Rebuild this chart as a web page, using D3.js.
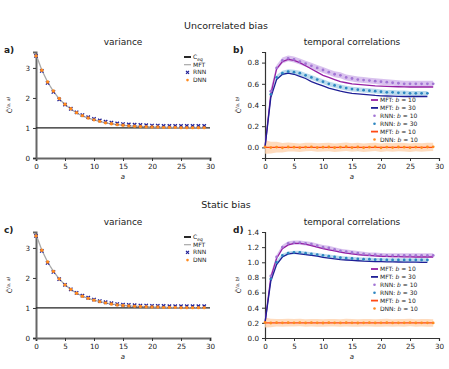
<!DOCTYPE html>
<meta charset="utf-8">
<style>
body { margin: 0; background: #fff; }
text { font-family: "DejaVu Sans", sans-serif; fill: #222; }
.tick text { font-size: 7.2px; }
</style>
<svg width="449" height="369"></svg>
<script src="https://cdn.jsdelivr.net/npm/d3@7"></script>
<script>

// time lags a = 0..29
var lags = d3.range(30);
var lags29 = d3.range(29); // b = 30 curves stop at a = 28

// ---- uncorrelated bias: variance ----
var mftVarU = [3.45, 2.93, 2.53, 2.22, 1.97, 1.78, 1.63, 1.50, 1.40, 1.33, 1.27, 1.22, 1.17, 1.14, 1.11, 1.09, 1.07, 1.06, 1.05, 1.04, 1.03, 1.03, 1.02, 1.02, 1.01, 1.01, 1.01, 1.01, 1.01, 1.01];
var rnnVarU = [3.40, 2.90, 2.50, 2.20, 1.95, 1.78, 1.64, 1.52, 1.43, 1.36, 1.30, 1.25, 1.21, 1.18, 1.15, 1.13, 1.12, 1.11, 1.10, 1.09, 1.08, 1.08, 1.07, 1.07, 1.07, 1.07, 1.07, 1.07, 1.07, 1.07];
var dnnVarU = [3.40, 2.92, 2.53, 2.23, 1.98, 1.79, 1.64, 1.51, 1.41, 1.33, 1.27, 1.22, 1.17, 1.14, 1.11, 1.09, 1.07, 1.06, 1.05, 1.04, 1.03, 1.03, 1.02, 1.02, 1.02, 1.01, 1.01, 1.01, 1.01, 1.01];

// ---- uncorrelated bias: temporal correlations ----
var mftB10U = [0.00, 0.50, 0.74, 0.81, 0.83, 0.82, 0.80, 0.77, 0.74, 0.71, 0.68, 0.66, 0.64, 0.62, 0.61, 0.60, 0.595, 0.59, 0.585, 0.58, 0.578, 0.576, 0.574, 0.572, 0.571, 0.57, 0.57, 0.57, 0.57, 0.57];
var mftB30U = [0.00, 0.47, 0.64, 0.69, 0.70, 0.69, 0.67, 0.65, 0.62, 0.60, 0.58, 0.56, 0.545, 0.53, 0.52, 0.51, 0.505, 0.50, 0.495, 0.49, 0.487, 0.485, 0.483, 0.481, 0.48, 0.48, 0.48, 0.48, 0.48];
var rnnB10U = [0.00, 0.53, 0.75, 0.82, 0.84, 0.83, 0.81, 0.79, 0.77, 0.75, 0.73, 0.71, 0.69, 0.68, 0.66, 0.65, 0.64, 0.635, 0.63, 0.625, 0.62, 0.615, 0.61, 0.605, 0.60, 0.60, 0.60, 0.60, 0.60, 0.60];
var rnnB30U = [0.00, 0.50, 0.66, 0.70, 0.715, 0.71, 0.70, 0.68, 0.66, 0.64, 0.62, 0.60, 0.585, 0.57, 0.56, 0.55, 0.545, 0.54, 0.535, 0.53, 0.525, 0.52, 0.52, 0.515, 0.515, 0.51, 0.51, 0.51, 0.51];
var mftDnnU = [0.00, 0.00, 0.00, 0.00, 0.00, 0.00, 0.00, 0.00, 0.00, 0.00, 0.00, 0.00, 0.00, 0.00, 0.00, 0.00, 0.00, 0.00, 0.00, 0.00, 0.00, 0.00, 0.00, 0.00, 0.00, 0.00, 0.00, 0.00, 0.00, 0.00];
var dnnB10U = [0.005, -0.002, 0.003, -0.004, 0.004, 0.002, -0.003, 0.003, 0.005, -0.002, 0.002, 0.004, -0.003, 0.002, 0.006, -0.002, 0.004, -0.003, 0.002, 0.005, -0.004, 0.003, -0.002, 0.004, 0.002, -0.003, 0.003, -0.002, 0.004, 0.005];
var dnnBandU = [0.065, 0.055, 0.05, 0.045, 0.042, 0.04, 0.04, 0.04, 0.04, 0.04, 0.04, 0.04, 0.04, 0.04, 0.04, 0.04, 0.04, 0.04, 0.04, 0.04, 0.04, 0.04, 0.04, 0.04, 0.04, 0.04, 0.04, 0.04, 0.04, 0.04];

// ---- static bias: variance ----
var mftVarS = [3.45, 2.93, 2.53, 2.22, 1.97, 1.77, 1.62, 1.49, 1.39, 1.32, 1.26, 1.21, 1.17, 1.13, 1.11, 1.09, 1.07, 1.06, 1.05, 1.04, 1.03, 1.03, 1.02, 1.02, 1.01, 1.01, 1.01, 1.01, 1.01, 1.01];
var rnnVarS = [3.40, 2.90, 2.50, 2.20, 1.96, 1.77, 1.62, 1.50, 1.41, 1.34, 1.28, 1.23, 1.19, 1.16, 1.13, 1.11, 1.10, 1.09, 1.08, 1.08, 1.07, 1.07, 1.07, 1.06, 1.06, 1.06, 1.06, 1.06, 1.06, 1.06];
var dnnVarS = [3.40, 2.92, 2.53, 2.22, 1.97, 1.77, 1.62, 1.49, 1.39, 1.32, 1.26, 1.21, 1.17, 1.13, 1.10, 1.08, 1.07, 1.06, 1.05, 1.04, 1.03, 1.03, 1.02, 1.02, 1.02, 1.01, 1.01, 1.01, 1.01, 1.01];

// ---- static bias: temporal correlations ----
var mftB10S = [0.20, 0.80, 1.05, 1.18, 1.23, 1.25, 1.25, 1.24, 1.22, 1.20, 1.18, 1.165, 1.15, 1.135, 1.12, 1.11, 1.10, 1.095, 1.09, 1.085, 1.08, 1.078, 1.076, 1.074, 1.072, 1.071, 1.07, 1.07, 1.07, 1.07];
var mftB30S = [0.20, 0.75, 0.97, 1.07, 1.11, 1.12, 1.11, 1.10, 1.09, 1.08, 1.065, 1.055, 1.045, 1.035, 1.03, 1.025, 1.02, 1.015, 1.012, 1.01, 1.008, 1.006, 1.005, 1.004, 1.003, 1.002, 1.001, 1.00, 1.00];
var rnnB10S = [0.20, 0.82, 1.07, 1.20, 1.25, 1.26, 1.26, 1.25, 1.24, 1.22, 1.20, 1.19, 1.17, 1.15, 1.14, 1.13, 1.12, 1.11, 1.10, 1.10, 1.095, 1.09, 1.09, 1.09, 1.09, 1.09, 1.09, 1.09, 1.09, 1.09];
var rnnB30S = [0.20, 0.78, 1.00, 1.09, 1.12, 1.13, 1.13, 1.12, 1.11, 1.10, 1.09, 1.08, 1.07, 1.06, 1.055, 1.05, 1.045, 1.04, 1.04, 1.035, 1.035, 1.03, 1.03, 1.03, 1.03, 1.03, 1.03, 1.03, 1.03];
var mftDnnS = [0.20, 0.20, 0.20, 0.20, 0.20, 0.20, 0.20, 0.20, 0.20, 0.20, 0.20, 0.20, 0.20, 0.20, 0.20, 0.20, 0.20, 0.20, 0.20, 0.20, 0.20, 0.20, 0.20, 0.20, 0.20, 0.20, 0.20, 0.20, 0.20, 0.20];
var dnnB10S = [0.205, 0.198, 0.202, 0.200, 0.203, 0.201, 0.204, 0.199, 0.202, 0.200, 0.198, 0.202, 0.201, 0.199, 0.203, 0.200, 0.198, 0.201, 0.202, 0.199, 0.200, 0.203, 0.199, 0.201, 0.200, 0.204, 0.199, 0.201, 0.200, 0.199];
var dnnBandS = [0.065, 0.055, 0.05, 0.05, 0.05, 0.05, 0.05, 0.05, 0.05, 0.05, 0.05, 0.05, 0.05, 0.05, 0.05, 0.05, 0.05, 0.05, 0.05, 0.05, 0.05, 0.05, 0.05, 0.05, 0.05, 0.05, 0.05, 0.05, 0.05, 0.05];

var rnnBand = 0.028;

var xTicks = [0, 5, 10, 15, 20, 25, 30];
var varTicks = [0, 1, 2, 3];
var corrTicksU = [0, 0.2, 0.4, 0.6, 0.8];
var corrTicksS = [0, 0.2, 0.4, 0.6, 0.8, 1.0, 1.2, 1.4];

var col = {
  mft10: "#951fa3", rnn10: "#a275d4", band10: "#cfb3ea",
  mft30: "#1f1f96", rnn30: "#2d86c1", band30: "#aad2e8",
  mftD: "#ff4a14", dnn: "#ff8a1e", bandD: "#ffd2ad",
  gray: "#a8a8a8", navy: "#1f1f96"
};

var svg = d3.select("svg");

// section headings
svg.append("text").attr("x", 226).attr("y", 29).attr("text-anchor", "middle")
  .style("font-size", "9.5px").text("Uncorrelated bias");
svg.append("text").attr("x", 226).attr("y", 208).attr("text-anchor", "middle")
  .style("font-size", "9.5px").text("Static bias");

function makeAxes(o) {
  var x = d3.scaleLinear().domain([0, 30]).range([o.left, o.left + 174]);
  var y = d3.scaleLinear().domain(o.ydom).range([o.bottom, o.bottom - 106]);
  var g = svg.append("g");

  g.append("g")
    .attr("transform", "translate(0," + o.bottom + ")")
    .call(d3.axisBottom(x).tickValues(xTicks).tickSize(3).tickPadding(3).tickFormat(d3.format("d")))
    .call(function(a) {
      a.select(".domain").attr("stroke", o.spine).attr("stroke-width", o.spineW);
      a.selectAll(".tick line").attr("stroke", "#333");
    });
  g.append("g")
    .attr("transform", "translate(" + o.left + ",0)")
    .call(d3.axisLeft(y).tickValues(o.yticks).tickSize(3).tickPadding(3).tickFormat(o.fmt))
    .call(function(a) {
      a.select(".domain").attr("stroke", o.spine).attr("stroke-width", o.spineW);
      a.selectAll(".tick line").attr("stroke", "#333");
    });

  svg.append("text").attr("x", o.left + 87).attr("y", o.bottom - 113)
    .attr("text-anchor", "middle").style("font-size", "9px").text(o.title);
  svg.append("text").attr("x", o.left - 32).attr("y", o.bottom - 105)
    .style("font-size", "9px").style("font-weight", "bold").text(o.letter);
  svg.append("text").attr("x", o.left + 87).attr("y", o.bottom + 21)
    .attr("text-anchor", "middle").style("font-size", "7px").style("font-style", "italic").text("a");

  var yl = svg.append("text")
    .attr("transform", "translate(" + (o.left - 24) + "," + (o.bottom - 53) + ") rotate(-90)")
    .attr("text-anchor", "middle").style("font-size", "6.5px");
  yl.append("tspan").text("C\u0304");
  yl.append("tspan").attr("dy", -2.5).style("font-size", "4.5px").style("font-style", "italic").text(o.sup);

  return {x: x, y: y};
}

function line(sc, xs, ys, color, w) {
  svg.append("path")
    .datum(xs.map(function(d, i) { return [d, ys[i]]; }))
    .attr("fill", "none").attr("stroke", color).attr("stroke-width", w)
    .attr("d", d3.line().x(function(d) { return sc.x(d[0]); }).y(function(d) { return sc.y(d[1]); }));
}

function band(sc, xs, ys, half, color) {
  svg.append("path")
    .datum(xs.map(function(d, i) { return [d, ys[i], Array.isArray(half) ? half[i] : half]; }))
    .attr("fill", color).attr("opacity", 0.8)
    .attr("d", d3.area()
      .x(function(d) { return sc.x(d[0]); })
      .y0(function(d) { return sc.y(d[1] - d[2]); })
      .y1(function(d) { return sc.y(d[1] + d[2]); }));
}

function dots(sc, xs, ys, color, r) {
  svg.append("g").selectAll("circle")
    .data(xs.map(function(d, i) { return [d, ys[i]]; }))
    .join("circle")
    .attr("cx", function(d) { return sc.x(d[0]); })
    .attr("cy", function(d) { return sc.y(d[1]); })
    .attr("r", r).attr("fill", color);
}

function crosses(sc, xs, ys, color) {
  svg.append("g").selectAll("path")
    .data(xs.map(function(d, i) { return [d, ys[i]]; }))
    .join("path")
    .attr("transform", function(d) { return "translate(" + sc.x(d[0]) + "," + sc.y(d[1]) + ")"; })
    .attr("d", d3.symbol(d3.symbolX, 9))
    .attr("stroke", color).attr("stroke-width", 1.3).attr("fill", "none");
}

function legend(x0, y0, dy, items) {
  items.forEach(function(it, i) {
    var yy = y0 + i * dy;
    if (it.kind === "line") {
      svg.append("line").attr("x1", x0).attr("x2", x0 + 7).attr("y1", yy).attr("y2", yy)
        .attr("stroke", it.color).attr("stroke-width", it.w || 1.8);
    } else if (it.kind === "dot") {
      svg.append("circle").attr("cx", x0 + 3.5).attr("cy", yy).attr("r", 1.3).attr("fill", it.color);
    } else {
      svg.append("path").attr("transform", "translate(" + (x0 + 3.5) + "," + yy + ")")
        .attr("d", d3.symbol(d3.symbolX, 7)).attr("stroke", it.color).attr("stroke-width", 1.2);
    }
    var t = svg.append("text").attr("x", x0 + 9).attr("y", yy + 2).style("font-size", "6px");
    if (it.b) {
      t.append("tspan").text(it.label + ": ");
      t.append("tspan").style("font-style", "italic").text("b");
      t.append("tspan").text(" = " + it.b);
    } else if (it.sub) {
      t.append("tspan").text(it.label);
      t.append("tspan").attr("dy", 1.5).style("font-size", "4.5px").style("font-style", "italic").text(it.sub);
    } else {
      t.text(it.label);
    }
  });
}

function variancePanel(letter, bottom, mft, rnn, dnn) {
  var sc = makeAxes({left: 36, bottom: bottom, ydom: [0, 3.53], yticks: varTicks,
    fmt: d3.format("d"), title: "variance", letter: letter, sup: "(a, a)",
    spine: "#666", spineW: 2});
  line(sc, [0, 30], [1, 1], "#222", 1.3);
  line(sc, lags, mft, col.gray, 1.3);
  crosses(sc, lags, rnn, col.navy);
  dots(sc, lags, dnn, col.dnn, 1.7);
  legend(184, bottom - 101, 7.7, [
    {kind: "line", color: "#111", label: "C", sub: "eq"},
    {kind: "line", color: col.gray, label: "MFT", w: 1.2},
    {kind: "x", color: col.navy, label: "RNN"},
    {kind: "dot", color: col.dnn, label: "DNN"}
  ]);
}

function corrPanel(letter, bottom, ydom, ticks, d, legY) {
  var sc = makeAxes({left: 265, bottom: bottom, ydom: ydom, yticks: ticks,
    fmt: d3.format(".1f"), title: "temporal correlations", letter: letter, sup: "(a, b)",
    spine: "#333", spineW: 1.2});
  band(sc, lags, d.rnn10, rnnBand, col.band10);
  band(sc, lags29, d.rnn30, rnnBand * 0.8, col.band30);
  band(sc, lags, d.dnn, d.dnnBand, col.bandD);
  line(sc, lags, d.mft10, col.mft10, 1.3);
  line(sc, lags29, d.mft30, col.mft30, 1.3);
  line(sc, lags, d.mftD, col.mftD, 1.3);
  dots(sc, lags.slice(1), d.rnn10.slice(1), col.rnn10, 1.4);
  dots(sc, lags29.slice(1), d.rnn30.slice(1), col.rnn30, 1.4);
  dots(sc, lags, d.dnn, col.dnn, 1.4);
  legend(371, legY, 7.9, [
    {kind: "line", color: col.mft10, label: "MFT", b: "10"},
    {kind: "line", color: col.mft30, label: "MFT", b: "30"},
    {kind: "dot", color: col.rnn10, label: "RNN", b: "10"},
    {kind: "dot", color: col.rnn30, label: "RNN", b: "30"},
    {kind: "line", color: col.mftD, label: "MFT", b: "10"},
    {kind: "dot", color: col.dnn, label: "DNN", b: "10"}
  ]);
}

variancePanel("a)", 158, mftVarU, rnnVarU, dnnVarU);
corrPanel("b)", 158, [-0.1, 0.9], corrTicksU,
  {mft10: mftB10U, mft30: mftB30U, rnn10: rnnB10U, rnn30: rnnB30U, mftD: mftDnnU, dnn: dnnB10U, dnnBand: dnnBandU}, 100);

variancePanel("c)", 338, mftVarS, rnnVarS, dnnVarS);
corrPanel("d)", 338, [0, 1.4], corrTicksS,
  {mft10: mftB10S, mft30: mftB30S, rnn10: rnnB10S, rnn30: rnnB30S, mftD: mftDnnS, dnn: dnnB10S, dnnBand: dnnBandS}, 269);

</script>
